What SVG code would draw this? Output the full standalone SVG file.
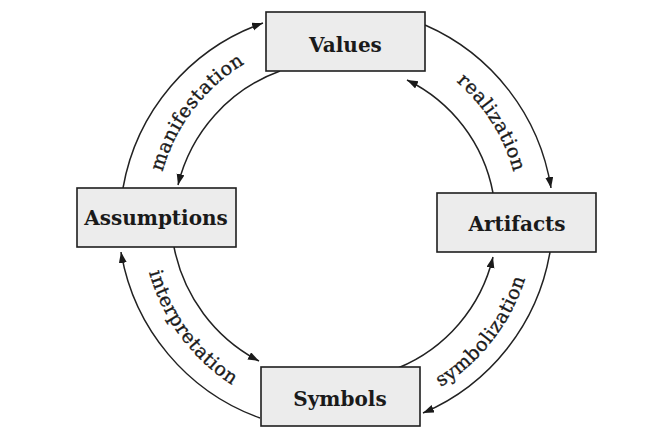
<svg xmlns="http://www.w3.org/2000/svg" width="647" height="435" viewBox="0 0 647 435">
<style>
.box{fill:#ececec;stroke:#1e1e1e;stroke-width:1.6}
.nt{font-family:"DejaVu Serif","Liberation Serif",serif;font-weight:bold;font-size:20px;fill:#1a1a1a;text-anchor:middle}
.lt{font-family:"DejaVu Serif","Liberation Serif",serif;font-size:19px;fill:#1a1a1a;stroke:#1a1a1a;stroke-width:0.35;letter-spacing:0.6px}
.arc{fill:none;stroke:#222;stroke-width:1.5;marker-end:url(#ah)}
</style>
<defs>
<marker id="ah" markerUnits="userSpaceOnUse" markerWidth="12" markerHeight="9" refX="11" refY="4" orient="auto">
<path d="M0,0 L11,4 L0,8 z" fill="#1a1a1a"/>
</marker>
<path id="p1" d="M160.5,260 A182,182 0 0 1 329.4,38.2"/>
<path id="p2" d="M362.4,39.6 A182,182 0 0 1 511.4,275.3"/>
<path id="p3" d="M345.5,415.9 A196,196 0 0 0 529.6,178.6"/>
<path id="p4" d="M147.4,174.3 A196,196 0 0 0 326,415.6"/>
</defs>
<rect width="647" height="435" fill="#fff"/>
<g id="connectors">
<path class="arc" d="M123,188 A214,214 0 0 1 263,23"/>
<path class="arc" d="M280,71 A162,162 0 0 0 178,185"/>
<path class="arc" d="M425,25 A214,214 0 0 1 551,188"/>
<path class="arc" d="M493,193 A158,158 0 0 0 407,80"/>
<path class="arc" d="M550,252 A214,214 0 0 1 423,413"/>
<path class="arc" d="M398,368 A160,160 0 0 0 493,257"/>
<path class="arc" d="M260,418 A214,214 0 0 1 121,252"/>
<path class="arc" d="M174,247 A164,164 0 0 0 259,361"/>
<text class="lt"><textPath href="#p1" startOffset="50%" text-anchor="middle">manifestation</textPath></text>
<text class="lt"><textPath href="#p2" startOffset="50%" text-anchor="middle">realization</textPath></text>
<text class="lt"><textPath href="#p3" startOffset="50%" text-anchor="middle">symbolization</textPath></text>
<text class="lt"><textPath href="#p4" startOffset="50%" text-anchor="middle">interpretation</textPath></text>
</g>
<g id="values"><rect class="box" x="266" y="12" width="159" height="59"/><text class="nt" x="345.5" y="52">Values</text></g>
<g id="assumptions"><rect class="box" x="77" y="188" width="159" height="59"/><text class="nt" x="156" y="225">Assumptions</text></g>
<g id="artifacts"><rect class="box" x="437" y="193" width="159" height="59"/><text class="nt" x="517" y="231">Artifacts</text></g>
<g id="symbols"><rect class="box" x="261" y="367" width="159" height="59"/><text class="nt" x="340" y="406">Symbols</text></g>
</svg>
